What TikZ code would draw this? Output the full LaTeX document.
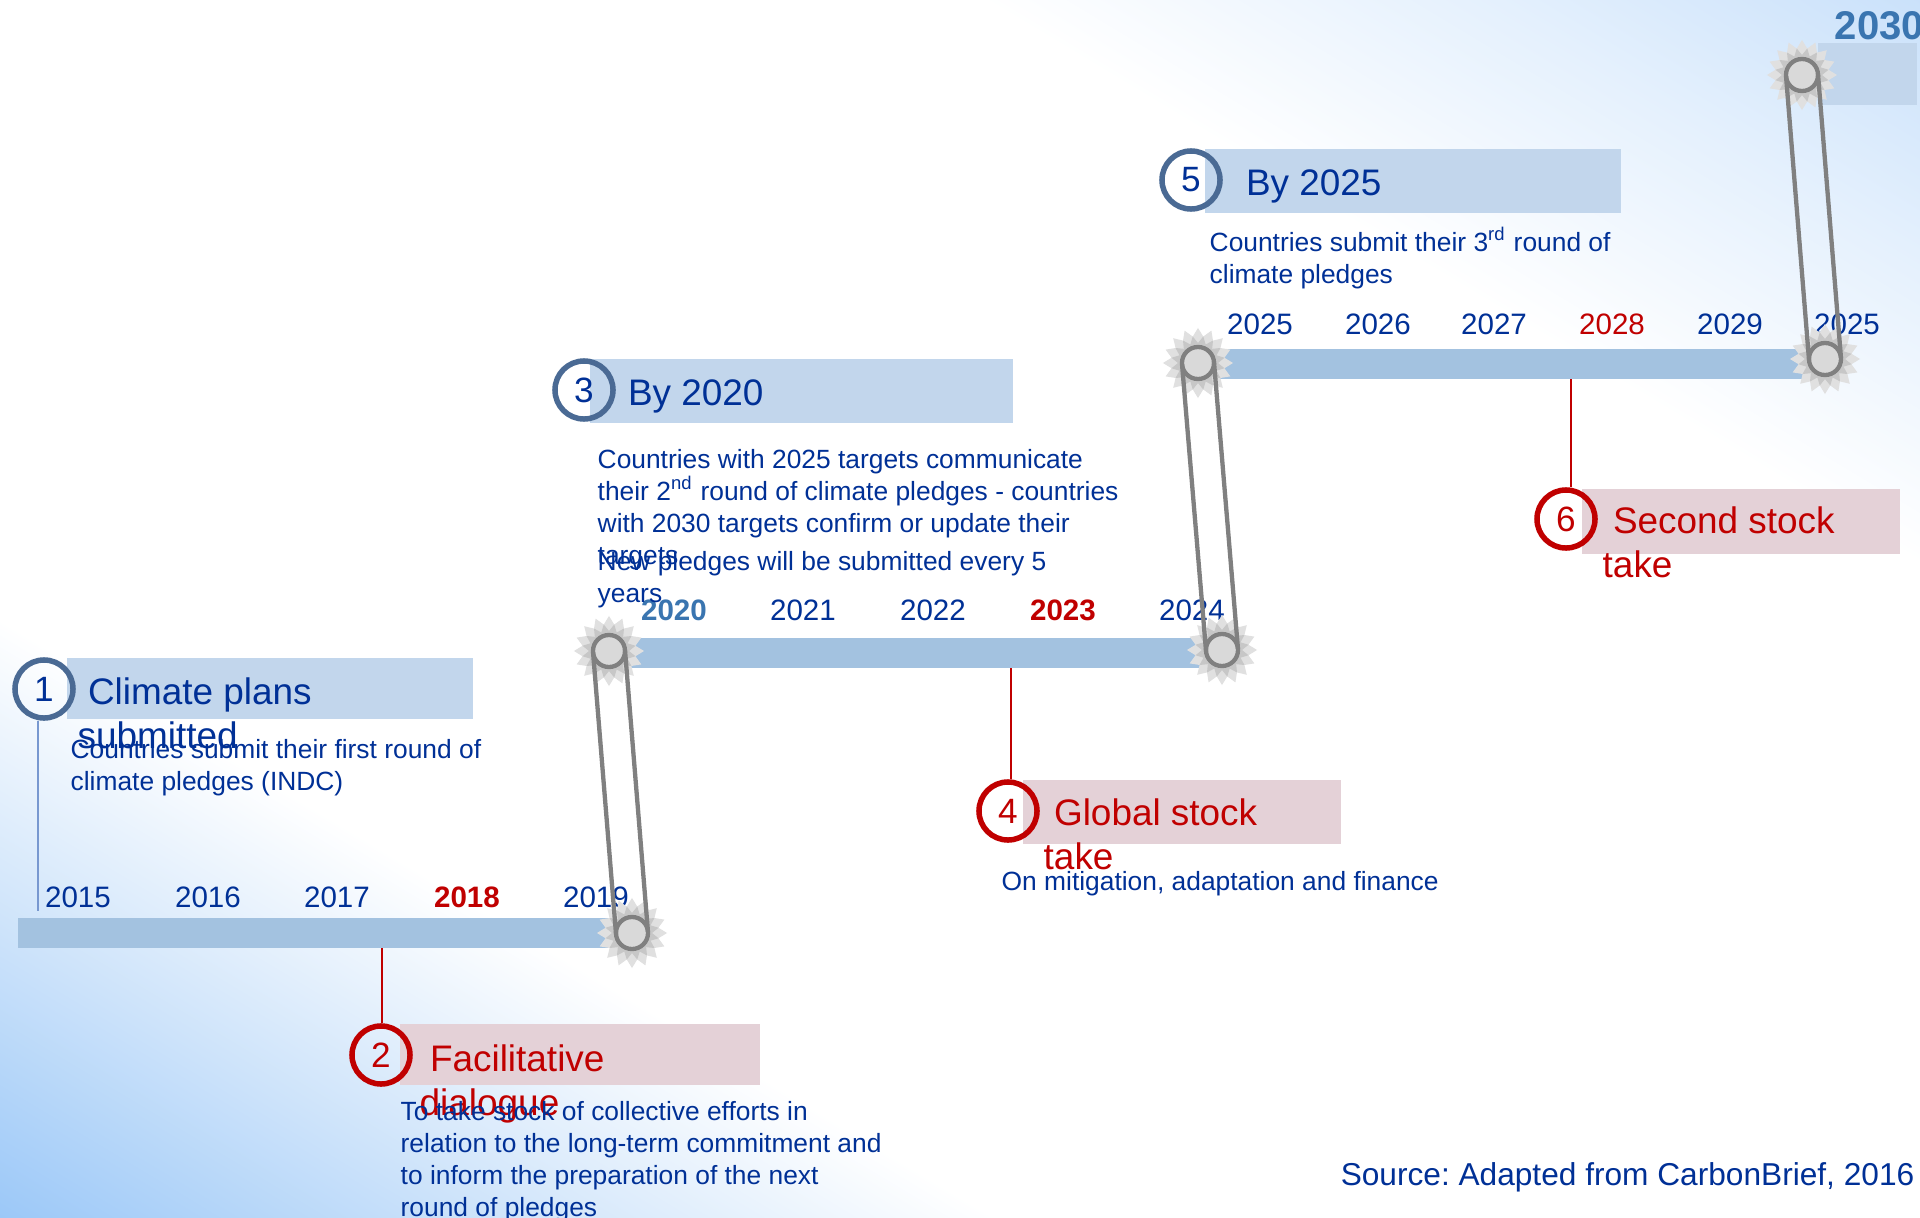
\documentclass[tikz,border=0pt]{standalone}
\usepackage{fontspec}
\setmainfont{Liberation Sans}
\usetikzlibrary{shapes.geometric,calc}

\definecolor{ink}{RGB}{0,48,150}
\definecolor{alarm}{RGB}{192,0,0}
\definecolor{steel}{RGB}{58,117,176}
\definecolor{slate}{RGB}{74,106,148}
\definecolor{boxblue}{RGB}{194,214,236}
\definecolor{boxpink}{RGB}{228,209,215}
\definecolor{barblue}{RGB}{163,194,224}
\definecolor{beltgrey}{RGB}{128,128,128}
\definecolor{lineblue}{RGB}{120,152,208}
\definecolor{bgdeep}{RGB}{152,198,248}
\definecolor{bgmid}{RGB}{205,227,250}
\definecolor{bgpale}{RGB}{200,224,250}
\definecolor{bgfaint}{RGB}{228,240,253}

\pgfdeclarehorizontalshading{bgwave}{100bp}{color(0bp)=(bgdeep); color(15bp)=(bgdeep); color(24bp)=(bgmid); color(33bp)=(white); color(68bp)=(white); color(77bp)=(bgfaint); color(85bp)=(bgpale); color(100bp)=(bgpale)}

\tikzset{
  numring/.style={circle, line width=0.055cm, minimum size=0.58cm, inner sep=0pt, font=\fontsize{10}{12}\selectfont},
  bluering/.style={numring, draw=slate, text=ink},
  redring/.style={numring, draw=alarm, text=alarm},
  heading/.style={anchor=base west, inner sep=0pt, align=left, font=\fontsize{10.5}{12.5}\selectfont},
  blurb/.style={anchor=base west, inner sep=0pt, align=left, text=ink, font=\fontsize{7.5}{9.1}\selectfont},
  yr/.style={anchor=base, inner sep=0pt, text=ink, font=\fontsize{8.4}{10}\selectfont},
  yrhot/.style={yr, text=alarm, font=\fontsize{8.4}{10}\selectfont\bfseries},
  yrcool/.style={yr, text=steel, font=\fontsize{8.4}{10}\selectfont\bfseries},
  yrred/.style={yr, text=alarm},
  hub/.style={circle, draw=beltgrey, fill=black!15, line width=0.043cm, minimum size=0.32cm, inner sep=0pt},
  belt/.style={draw=beltgrey, line width=0.043cm},
  tick/.style={draw=alarm, line width=0.02cm},
}

\begin{document}
\begin{tikzpicture}[x=0.01cm, y=-0.01cm]
  % background
  \shade[shading=bgwave, shading angle=59] (0,0) rectangle (1920,1218);
  \useasboundingbox (0,0) rectangle (1920,1218);

  % label boxes
  \fill[boxblue] (67,658) rectangle (473,719);
  \fill[boxpink] (400,1024) rectangle (760,1085);
  \fill[boxblue] (590,359) rectangle (1013,423);
  \fill[boxpink] (1023,780) rectangle (1341,844);
  \fill[boxblue] (1205,149) rectangle (1621,213);
  \fill[boxpink] (1582,489) rectangle (1900,554);
  \fill[boxblue] (1818,43) rectangle (1917,105);

  % timeline bars
  \fill[barblue] (18,918) rectangle (632,948);
  \fill[barblue] (609,638) rectangle (1222,668);
  \fill[barblue] (1198,349) rectangle (1825,379);

  % years
  \foreach \yr/\x/\s [count=\i] in {2015/78/yr, 2016/208/yr, 2017/337/yr, 2018/467/yrhot, 2019/596/yr}
    \node[\s] (a\i) at (\x,907) {\yr};
  \foreach \yr/\x/\s [count=\i] in {2020/674/yrcool, 2021/803/yr, 2022/933/yr, 2023/1063/yrhot, 2024/1192/yr}
    \node[\s] (b\i) at (\x,620) {\yr};
  \foreach \yr/\x/\s [count=\i] in {2025/1260/yr, 2026/1378/yr, 2027/1494/yr, 2028/1612/yrred, 2029/1730/yr, 2025/1847/yr}
    \node[\s] (c\i) at (\x,334) {\yr};
  \node[anchor=base west, inner sep=0pt, text=steel, font=\fontsize{11.4}{13}\selectfont\bfseries] (goal) at (1834,40) {2030};

  % numbered rings
  \node[bluering] (n1) at (44,689) {1};
  \node[redring] (n2) at (381,1055) {2};
  \node[bluering] (n3) at (584,390) {3};
  \node[redring] (n4) at (1008,811) {4};
  \node[bluering] (n5) at (1191,180) {5};
  \node[redring] (n6) at (1566,519) {6};

  % ticks
  \coordinate (l1) at (38,911);
  \draw[lineblue, line width=0.015cm] (l1 |- n1.south) -- (l1);
  \coordinate (t2) at (382,948);
  \coordinate (t4) at (1011,668);
  \coordinate (t6) at (1571,379);
  \foreach \t/\n in {t2/n2, t4/n4, t6/n6}
    \draw[tick] (\t) -- (\t |- \n.north);

  % headings (anchored on the last line)
  \node[heading, text=ink] (h1) at (77,748) {\hspace*{.28em}Climate plans\\submitted};
  \node[heading, text=alarm] (h2) at (419,1115) {\hspace*{.28em}Facilitative\\dialogue};
  \node[heading, text=ink] (h3) at (617,405) {\hspace*{.28em}By 2020};
  \node[heading, text=alarm] (h4) at (1043,869) {\hspace*{.28em}Global stock\\take};
  \node[heading, text=ink] (h5) at (1235,195) {\hspace*{.28em}By 2025};
  \node[heading, text=alarm] (h6) at (1602,577) {\hspace*{.28em}Second stock\\take};

  % descriptions (anchored on the last line)
  \node[blurb] (d1) at (70,790) {Countries submit their first round of\\climate pledges (INDC)};
  \node[blurb] (d2) at (400,1216) {To take stock of collective efforts in\\relation to the long-term commitment and\\to inform the preparation of the next\\round of pledges};
  \node[blurb] (d3) at (597,564) {Countries with 2025 targets communicate\\their 2\textsuperscript{nd} round of climate pledges - countries\\with 2030 targets confirm or update their\\targets};
  \node[blurb] (d3b) at (597,602) {New pledges will be submitted every 5\\years};
  \node[blurb] (d4) at (1001,890) {On mitigation, adaptation and finance};
  \node[blurb] (d5) at (1209,283) {Countries submit their 3\textsuperscript{rd} round of\\climate pledges};

  \node[anchor=base east, inner sep=0pt, text=ink, font=\fontsize{9}{11}\selectfont\frenchspacing] (src) at (1915,1185) {Source: Adapted from CarbonBrief, 2016};

  % gears and belts
  \foreach \g/\p in {g1/{632,933}, g2/{609,651}, g3/{1222,650}, g4/{1198,363}, g5/{1825,359}, g6/{1802,75}} {
    \node[star, star points=16, star point ratio=1.3, minimum size=0.70cm, inner sep=0pt, fill=black!12] (\g s) at (\p) {};
    \node[star, star points=16, star point ratio=1.35, minimum size=0.54cm, inner sep=0pt, fill=black!22, rotate=11.25] (\g t) at (\p) {};
    \node[hub] (\g) at (\p) {};
  }
  \foreach \a/\b in {g1/g2, g3/g4, g5/g6} {
    \draw[belt] ($(\a)!0.16cm!90:(\b)$) -- ($(\b)!0.16cm!-90:(\a)$);
    \draw[belt] ($(\a)!0.16cm!-90:(\b)$) -- ($(\b)!0.16cm!90:(\a)$);
  }
\end{tikzpicture}
\end{document}
